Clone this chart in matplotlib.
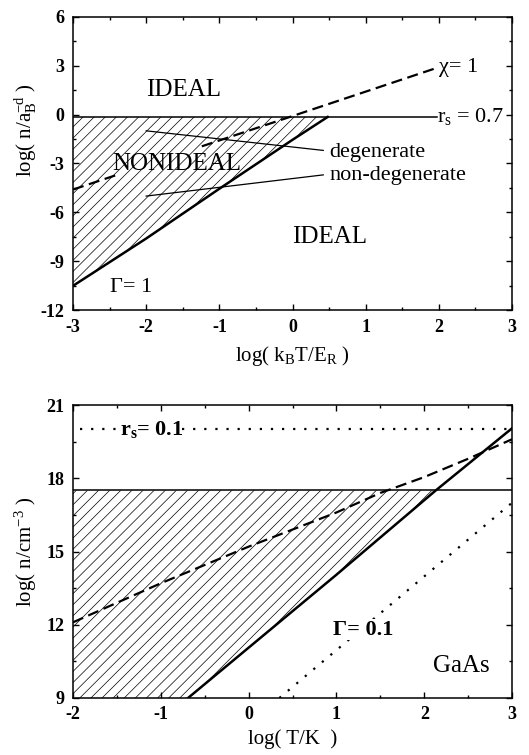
import numpy as np
import matplotlib
matplotlib.use("Agg")
import matplotlib.pyplot as plt
from matplotlib.ticker import MultipleLocator

plt.rcParams['font.family'] = ['Liberation Serif', 'DejaVu Serif']
plt.rcParams['mathtext.fontset'] = 'custom'
plt.rcParams['mathtext.rm'] = 'Liberation Serif'
plt.rcParams['mathtext.it'] = 'Liberation Serif:italic'
plt.rcParams['mathtext.bf'] = 'Liberation Serif:bold'
plt.rcParams['hatch.linewidth'] = 0.5
plt.rcParams['axes.unicode_minus'] = False

# верхняя панель: безразмерные единицы
rs07_y = -0.15
rs07_x = [-3.0, 1.97]
gam1_x = [-3.0, -2.0, -1.0, 0.0, 0.48]
gam1_y = [-10.5, -7.6, -4.55, -1.55, -0.15]
chi_x1 = [-3.0, -2.4]
chi_y1 = [-4.6, -3.7]
chi_x2 = [-1.24, 2.0]
chi_y2 = [-1.95, 2.9]
deg_x = [-2.0, 0.42]
deg_y = [-1.0, -2.2]
ndeg_x = [-2.0, 0.42]
ndeg_y = [-5.0, -3.7]

# нижняя панель: GaAs
rs01_y = 20.0
rs01_x1 = [-1.92, -1.5]
rs01_x2 = [-0.76, 3.0]
n_line = 17.5
gam_x = [-0.69, 1.0, 2.13, 3.0]
gam_y = [9.0, 14.05, 17.5, 20.05]
gam01_x = [0.35, 3.0]
gam01_y = [9.0, 17.0]
chi_x = [-2.0, -1.0, 0.0, 1.0, 1.5, 2.0, 2.5, 3.0]
chi_y = [12.1, 13.7, 15.2, 16.6, 17.4, 18.05, 18.8, 19.6]


def style(ax):
    ax.tick_params(which='both', direction='in', top=True, right=True)
    ax.tick_params(which='major', length=4, width=1, labelsize=13, pad=6)
    ax.tick_params(which='minor', length=2.5, width=1)
    for lab in ax.get_xticklabels() + ax.get_yticklabels():
        lab.set_fontweight('bold')
    for sp in ax.spines.values():
        sp.set_linewidth(1.1)


fig = plt.figure(figsize=(5.29, 7.55), dpi=100)
ax1 = fig.add_axes([0.138, 0.589, 0.830, 0.389])
ax2 = fig.add_axes([0.138, 0.0755, 0.830, 0.388])

# ---- верхняя панель
xf = np.linspace(gam1_x[0], gam1_x[-1], 200)
ax1.fill_between(xf, np.interp(xf, gam1_x, gam1_y), rs07_y,
                 facecolor='none', edgecolor='black', hatch='///', linewidth=0)
ax1.plot(rs07_x, [rs07_y, rs07_y], color='black', lw=1.1)
ax1.plot(gam1_x, gam1_y, color='black', lw=1.8)
ax1.plot(chi_x1, chi_y1, color='black', lw=1.6, linestyle=(0, (5, 2.5)))
ax1.plot(chi_x2, chi_y2, color='black', lw=1.6, linestyle=(0, (5, 2.5)))
ax1.plot(deg_x, deg_y, color='black', lw=0.9)
ax1.plot(ndeg_x, ndeg_y, color='black', lw=0.9)

ax1.text(-2.0, 1.5, 'IDEAL', fontsize=18, va='center')
ax1.text(-2.47, -3.05, 'NONIDEAL', fontsize=18, va='center')
ax1.text(0.0, -7.5, 'IDEAL', fontsize=18, va='center')
ax1.text(-2.5, -10.6, 'Γ= 1', fontsize=16, va='center')
ax1.text(2.0, 2.9, 'χ= 1', fontsize=16, va='center')
ax1.text(1.98, -0.15, r'$\mathregular{r_s}$ = 0.7', fontsize=16, va='center')
ax1.text(0.5, -2.3, 'degenerate', fontsize=16, va='center')
ax1.text(0.5, -3.75, 'non-degenerate', fontsize=16, va='center')

ax1.set_xlim(-3, 3)
ax1.set_ylim(-12, 6)
ax1.xaxis.set_major_locator(MultipleLocator(1))
ax1.xaxis.set_minor_locator(MultipleLocator(0.5))
ax1.yaxis.set_major_locator(MultipleLocator(3))
ax1.yaxis.set_minor_locator(MultipleLocator(1.5))
ax1.set_xlabel(r'log( $\mathregular{k_BT/E_R}$ )', fontsize=15, labelpad=6)
ax1.set_ylabel(r'log( n/$\mathregular{a_B^{-d}}$ )', fontsize=15)
ax1.yaxis.set_label_coords(-0.077, 0.615)
style(ax1)

# ---- нижняя панель
xf2 = np.linspace(-2.0, gam_x[2], 200)
ax2.fill_between(xf2, np.interp(xf2, gam_x, gam_y, left=9.0), n_line,
                 facecolor='none', edgecolor='black', hatch='///', linewidth=0)
ax2.plot([-2, 3], [n_line, n_line], color='black', lw=1.1)
ax2.plot(rs01_x1, [rs01_y, rs01_y], color='black', lw=1.6, linestyle=(0, (1, 4)))
ax2.plot(rs01_x2, [rs01_y, rs01_y], color='black', lw=1.6, linestyle=(0, (1, 4)))
ax2.plot(gam_x, gam_y, color='black', lw=1.8)
ax2.plot(gam01_x, gam01_y, color='black', lw=1.6, linestyle=(0, (1, 4)))
ax2.plot(chi_x, chi_y, color='black', lw=1.6, linestyle=(0, (5, 2.5)))

ax2.text(-1.46, 20.0, r'$\mathregular{r_s}$= 0.1', fontsize=16, va='center', fontweight='bold')
ax2.text(0.96, 11.8, 'Γ= 0.1', fontsize=16, va='center', fontweight='bold',
         bbox=dict(facecolor='white', edgecolor='none', pad=0.5), zorder=5)
ax2.text(2.1, 10.3, 'GaAs', fontsize=18, va='center')

ax2.set_xlim(-2, 3)
ax2.set_ylim(9, 21)
ax2.xaxis.set_major_locator(MultipleLocator(1))
ax2.xaxis.set_minor_locator(MultipleLocator(0.5))
ax2.yaxis.set_major_locator(MultipleLocator(3))
ax2.yaxis.set_minor_locator(MultipleLocator(1.5))
ax2.set_xlabel('log( T/K  )', fontsize=15, labelpad=4)
ax2.set_ylabel(r'log( n/$\mathregular{cm^{-3}}$ )', fontsize=15)
ax2.yaxis.set_label_coords(-0.077, 0.5)
style(ax2)

fig.savefig('out.png', dpi=100)
